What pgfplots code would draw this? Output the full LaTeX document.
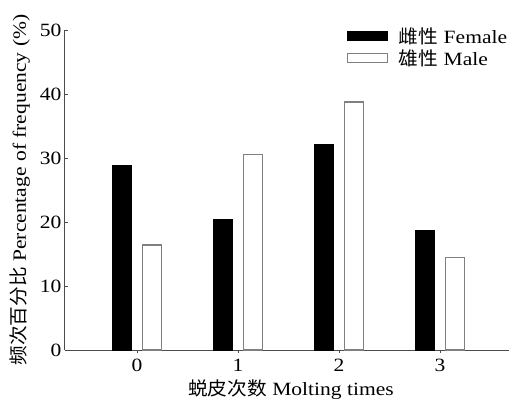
\documentclass[border=0pt]{standalone}
\usepackage{fontspec}
\setmainfont{Liberation Serif}[FakeStretch=1.15]
\newfontfamily\cjk{Noto Sans CJK SC}[FakeStretch=1.05]
\usepackage{pgfplots}
\pgfplotsset{compat=1.18}
\begin{document}
\begin{tikzpicture}
\begin{axis}[
  scale only axis,
  width=444bp, height=320bp,
  xmin=-0.713, xmax=3.683,
  ymin=0, ymax=50,
  axis x line*=bottom, axis y line*=left,
  axis line style={draw=black!70, line width=1bp},
  xtick={0,1,2,3},
  ytick={0,10,20,30,40,50},
  tick align=inside,
  major tick length=3bp,
  tick style={black!70, line width=0.8bp},
  /pgf/number format/assume math mode=true,
  ticklabel style={font=\fontsize{18.8}{21}\selectfont, text=black},
  xticklabel style={yshift=-3bp},
  xlabel={{\cjk 蜕皮次数} Molting times},
  ylabel={{\cjk 频次百分比} Percentage of frequency (\%)},
  label style={font=\fontsize{18.8}{21}\selectfont, text=black},
  xlabel style={at={(rel axis cs:0.5,0)}, anchor=center, yshift=-40bp, xshift=4bp},
  ylabel style={at={(rel axis cs:0,0.5)}, anchor=center, yshift=45bp},
  ybar,
  bar width=19bp,
  legend style={draw=none, fill=none, at={(rel axis cs:0.634,1.012)}, anchor=north west,
    font=\fontsize{18.8}{21}\selectfont, text=black, row sep=3bp, inner sep=0bp,
    nodes={inner sep=1bp}},
  legend cell align=left,
  legend image code/.code={\draw[#1] (0bp,-4.5bp) rectangle (40bp,4.5bp); \path (50bp,0bp);},
]
\addplot[fill=black, draw=black, bar shift=-15bp] coordinates {(0,28.8) (1,20.4) (2,32.1) (3,18.75)};
\addlegendentry{{\cjk 雌性} Female}
\addplot[fill=white, draw=black!50, line width=1.3bp, bar shift=15bp] coordinates {(0,16.4) (1,30.5) (2,38.75) (3,14.4)};
\addlegendentry{{\cjk 雄性} Male}
\coordinate (sw) at (rel axis cs:0,0);
\coordinate (ne) at (rel axis cs:1,1);
\end{axis}
\pgfresetboundingbox
\useasboundingbox ([shift={(-65bp,-56bp)}]sw) rectangle ([shift={(0bp,30bp)}]ne);
\end{tikzpicture}
\end{document}
